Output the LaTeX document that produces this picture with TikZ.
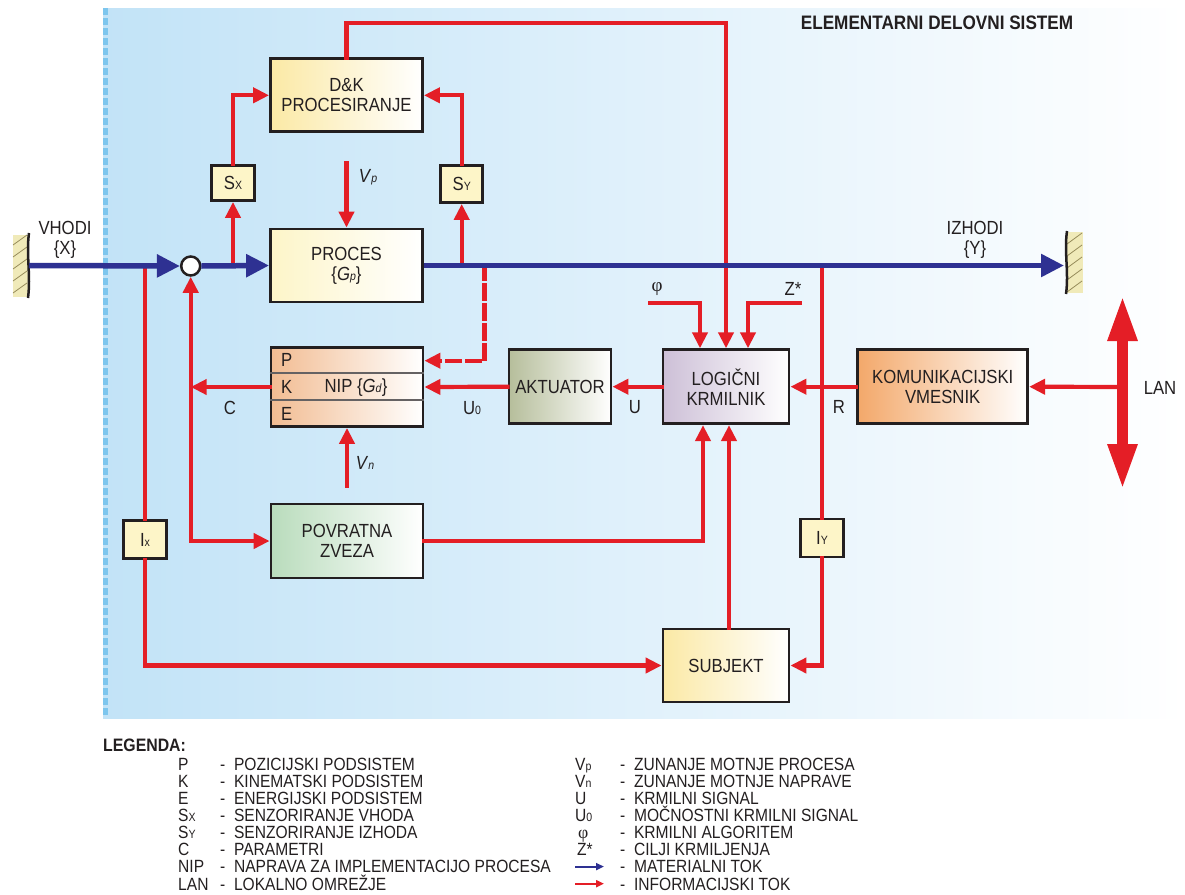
\documentclass[tikz,border=0pt]{standalone}
\usepackage{fontspec}
\setmainfont{Liberation Sans}[FakeStretch=0.88]
\newfontfamily\phifont{Liberation Serif}
\usetikzlibrary{arrows.meta,calc}
\definecolor{rd}{RGB}{228,30,38}
\definecolor{bl}{RGB}{46,49,146}
\definecolor{ink}{RGB}{35,31,32}
\definecolor{bgA}{RGB}{194,227,247}
\definecolor{bgB}{RGB}{220,238,251}
\definecolor{edgec}{RGB}{125,198,238}
\definecolor{cream}{RGB}{253,245,200}
\definecolor{yel}{RGB}{251,233,165}
\definecolor{peach}{RGB}{242,188,146}
\definecolor{olivec}{RGB}{182,190,155}
\definecolor{lav}{RGB}{205,192,215}
\definecolor{orng}{RGB}{243,168,106}
\definecolor{mint}{RGB}{185,220,188}
\definecolor{wallc}{RGB}{240,234,185}
\definecolor{hatchc}{RGB}{150,140,90}
\newcommand{\sbx}[1]{{\fontsize{12}{12}\selectfont #1}}
\tikzset{
  box/.style={draw=ink, line width=2.8pt, align=center, inner sep=0pt, text=ink, font=\fontsize{19}{20}\selectfont},
  smallbox/.style={draw=ink, line width=2.8pt, fill=cream, inner sep=0pt, text=ink, font=\fontsize{19}{20}\selectfont},
  infoline/.style={draw=rd, line width=4.2pt, line cap=rect},
  info/.style={infoline, -{Triangle[length=16pt,width=15pt]}},
  mat/.style={draw=bl, line width=5.5pt, -{Triangle[length=23pt,width=22pt]}},
  lbl/.style={font=\fontsize{19}{20}\selectfont, text=ink, inner sep=0pt, align=center},
  leg/.style={font=\fontsize{17.7}{17.7}\selectfont, text=ink, inner sep=0pt, anchor=base west},
}
\begin{document}
\begin{tikzpicture}[x=1pt,y=-1pt]
\useasboundingbox (0,0) rectangle (1185,894);
% background
\shade[left color=bgA, middle color=bgB, right color=white] (103,8) rectangle (1185,718);
\draw[edgec, line width=5pt, dash pattern=on 7pt off 3pt] (105.5,8) -- (105.5,718);
\node[font=\bfseries\fontsize{19.5}{20}\selectfont, text=ink, inner sep=0pt] (title) at (937,22.5) {ELEMENTARNI DELOVNI SISTEM};

% walls
\fill[wallc] (13,235) rectangle (28,297);
\foreach \y in {245,257,269,281,293} \draw[hatchc, line width=0.8pt] (13,\y) -- (27,\y-10);
\draw[ink, line width=2.5pt] (29,233) .. controls (26,255) and (31,275) .. (28,298);
\fill[wallc] (1066,232) rectangle (1083,293);
\foreach \y in {244,256,268,280,292} \draw[hatchc, line width=0.8pt] (1067,\y) -- (1082,\y-11);
\draw[ink, line width=2.5pt] (1067,231) .. controls (1064,252) and (1069,272) .. (1066,294);

% boxes
\node[box, left color=yel, right color=white, minimum width=152pt, minimum height=73pt] (dk) at (346.5,95.3) {D\&K\\PROCESIRANJE};
\node[box, left color=cream, right color=white, minimum width=152pt, minimum height=73pt] (proc) at (346.5,265.5) {PROCES\\\{\textit{G}\sbx{\textit{p}}\}};
\node[box, left color=peach, right color=white, minimum width=152pt, minimum height=79pt] (nip) at (347,387) {};
\node[box, left color=mint, right color=white, minimum width=152pt, minimum height=74pt] (povr) at (347,541) {POVRATNA\\ZVEZA};
\node[box, left color=olivec, right color=white, minimum width=102pt, minimum height=74pt] (akt) at (560,386.7) {AKTUATOR};
\node[box, left color=lav, right color=white, minimum width=126pt, minimum height=74pt] (log) at (726,386.7) {LOGIČNI\\KRMILNIK};
\node[box, left color=orng, right color=white, minimum width=170pt, minimum height=74pt] (kom) at (942.7,386.7) {KOMUNIKACIJSKI\\VMESNIK};
\node[box, left color=yel, right color=white, minimum width=126pt, minimum height=73pt] (subj) at (726,665.5) {SUBJEKT};
\node[smallbox, minimum width=43pt, minimum height=35pt] (sx) at (233,183) {S\sbx{X}};
\node[smallbox, minimum width=42pt, minimum height=37pt] (sy) at (461.7,184) {S\sbx{Y}};
\node[smallbox, minimum width=43pt, minimum height=38pt] (ix) at (145,539.5) {I\sbx{x}};
\node[smallbox, minimum width=43pt, minimum height=38pt] (iy) at (822,538) {I\sbx{Y}};
\node[circle, draw=ink, fill=white, line width=2.5pt, minimum size=19pt, inner sep=0pt] (circ) at (190.7,266) {};

% NIP internals
\draw[ink!70, line width=1.2pt] ($(nip.west)+(0,-14)$) -- ($(nip.east)+(0,-14)$);
\draw[ink!70, line width=1.2pt] ($(nip.west)+(0,13)$) -- ($(nip.east)+(0,13)$);
\node[lbl, anchor=west] (nP) at (281,360) {P};
\node[lbl, anchor=west] (nK) at (281,387) {K};
\node[lbl, anchor=west] (nE) at (281,414) {E};
\node[lbl] (nipt) at (356,388) {NIP \{\textit{G}\sbx{\textit{d}}\}};

% coordinates
\coordinate (jx) at (145,265.5);
\coordinate (fb) at (190.7,541);
\coordinate (cp) at (190.7,387);
\coordinate (jsx) at (233,265.5);
\coordinate (jsy) at (461.7,265.5);
\coordinate (jd) at (484.5,265.5);
\coordinate (dd) at (484.5,360.7);
\coordinate (jy) at (822,265.5);
\coordinate (topl) at (500,22.7);
\coordinate (vp) at (346.5,163);
\coordinate (vn) at (347,486);
\coordinate (phi0) at (650.5,303);
\coordinate (z0) at (800,303);
\coordinate (lanc) at (1122.5,387);
\coordinate (lant) at (1122.5,295);
\coordinate (lanb) at (1122.5,490);
\coordinate (wl) at (29,265.5);
\coordinate (wr) at (1064,265.5);

% information flow
\draw[infoline] (jx) -- (ix.north);
\draw[info] (ix.south) |- (subj.west);
\draw[infoline] (jy) -- (iy.north);
\draw[info] (iy.south) |- (subj.east);
\draw[info] (fb) -- (povr.west);
\draw[info] (fb) -- (circ.south);
\draw[info] (nip.west) -- (cp);
\draw[info] (povr.east) -| ([xshift=-23pt]log.south);
\draw[info] ([xshift=3pt]subj.north) -- ([xshift=3pt]log.south);
\draw[info] (vn) -- (nip.south);
\draw[info] (vp) -- (proc.north);
\draw[info] (jsx) -- (sx.south);
\draw[info] (sx.north) |- (dk.west);
\draw[info] (jsy) -- (sy.south);
\draw[info] (sy.north) |- (dk.east);
\draw[info] (dk.north) |- (topl) -| (log.north);
\draw[info] (phi0) -| ([xshift=-26pt]log.north);
\draw[info] (z0) -| ([xshift=22pt]log.north);
\draw[info] (akt.west) -- (nip.east);
\draw[info] (log.west) -- (akt.east);
\draw[info] (kom.west) -- (log.east);
\draw[info] (lanc) -- (kom.east);
\draw[info, dash pattern=on 13pt off 7pt] (jd) -- (dd) -- (dd -| nip.east);
\draw[rd, line width=11pt, {Triangle[length=46pt,width=27pt]}-{Triangle[length=46pt,width=27pt]}] (lant) -- (lanb);

% material flow
\draw[mat] (wl) -- (circ.west);
\draw[mat] (circ.east) -- (proc.west);
\draw[mat] (proc.east) -- (wr);

% labels
\node[lbl] (vhodi) at (65,240) {VHODI\\\{X\}};
\node[lbl] (izhodi) at (975,240) {IZHODI\\\{Y\}};
\node[lbl] (vpl) at (368,177) {\textit{V}\sbx{\textit{p}}};
\node[lbl] (vnl) at (365,463) {\textit{V}\sbx{\textit{n}}};
\node[lbl] (cl) at (230,408) {C};
\node[lbl] (u0l) at (472,408) {U\sbx{0}};
\node[lbl] (ul) at (635,407) {U};
\node[lbl] (rl) at (839,407) {R};
\node[lbl] (phil) at (657,289) {\phifont φ};
\node[lbl] (zl) at (793,289) {Z*};
\node[lbl] (lanl) at (1160,388) {LAN};

% legend
\node[font=\bfseries\fontsize{18}{18}\selectfont, text=ink, inner sep=0pt, anchor=base west] (legt) at (103,751) {LEGENDA:};
\node[leg] (a1) at (178,770.3) {P};
\node[leg] (a2) at (178,787.4) {K};
\node[leg] (a3) at (178,804.5) {E};
\node[leg] (a4) at (178,821.6) {S\sbx{X}};
\node[leg] (a5) at (178,838.7) {S\sbx{Y}};
\node[leg] (a6) at (178,855.8) {C};
\node[leg] (a7) at (178,872.9) {NIP};
\node[leg] (a8) at (178,890) {LAN};
\node[leg] (b1) at (220,770.3) {-\ \ POZICIJSKI PODSISTEM};
\node[leg] (b2) at (220,787.4) {-\ \ KINEMATSKI PODSISTEM};
\node[leg] (b3) at (220,804.5) {-\ \ ENERGIJSKI PODSISTEM};
\node[leg] (b4) at (220,821.6) {-\ \ SENZORIRANJE VHODA};
\node[leg] (b5) at (220,838.7) {-\ \ SENZORIRANJE IZHODA};
\node[leg] (b6) at (220,855.8) {-\ \ PARAMETRI};
\node[leg] (b7) at (220,872.9) {-\ \ NAPRAVA ZA IMPLEMENTACIJO PROCESA};
\node[leg] (b8) at (220,890) {-\ \ LOKALNO OMREŽJE};
\node[leg] (c1) at (575,770.3) {V\sbx{p}};
\node[leg] (c2) at (575,787.4) {V\sbx{n}};
\node[leg] (c3) at (575,804.5) {U};
\node[leg] (c4) at (575,821.6) {U\sbx{0}};
\node[leg] (c5) at (578,838.7) {\phifont φ};
\node[leg] (c6) at (577,855.8) {Z*};
\coordinate (la1) at (575,866.6);
\coordinate (la2) at (604,866.6);
\coordinate (lb1) at (575,883.7);
\coordinate (lb2) at (604,883.7);
\draw[bl, line width=2pt, -{Triangle[length=8pt,width=7pt]}] (la1) -- (la2);
\draw[rd, line width=2pt, -{Triangle[length=8pt,width=7pt]}] (lb1) -- (lb2);
\node[leg] (d1) at (620,770.3) {-\ \ ZUNANJE MOTNJE PROCESA};
\node[leg] (d2) at (620,787.4) {-\ \ ZUNANJE MOTNJE NAPRAVE};
\node[leg] (d3) at (620,804.5) {-\ \ KRMILNI SIGNAL};
\node[leg] (d4) at (620,821.6) {-\ \ MOČNOSTNI KRMILNI SIGNAL};
\node[leg] (d5) at (620,838.7) {-\ \ KRMILNI ALGORITEM};
\node[leg] (d6) at (620,855.8) {-\ \ CILJI KRMILJENJA};
\node[leg] (d7) at (620,872.9) {-\ \ MATERIALNI TOK};
\node[leg] (d8) at (620,890) {-\ \ INFORMACIJSKI TOK};
\end{tikzpicture}
\end{document}
